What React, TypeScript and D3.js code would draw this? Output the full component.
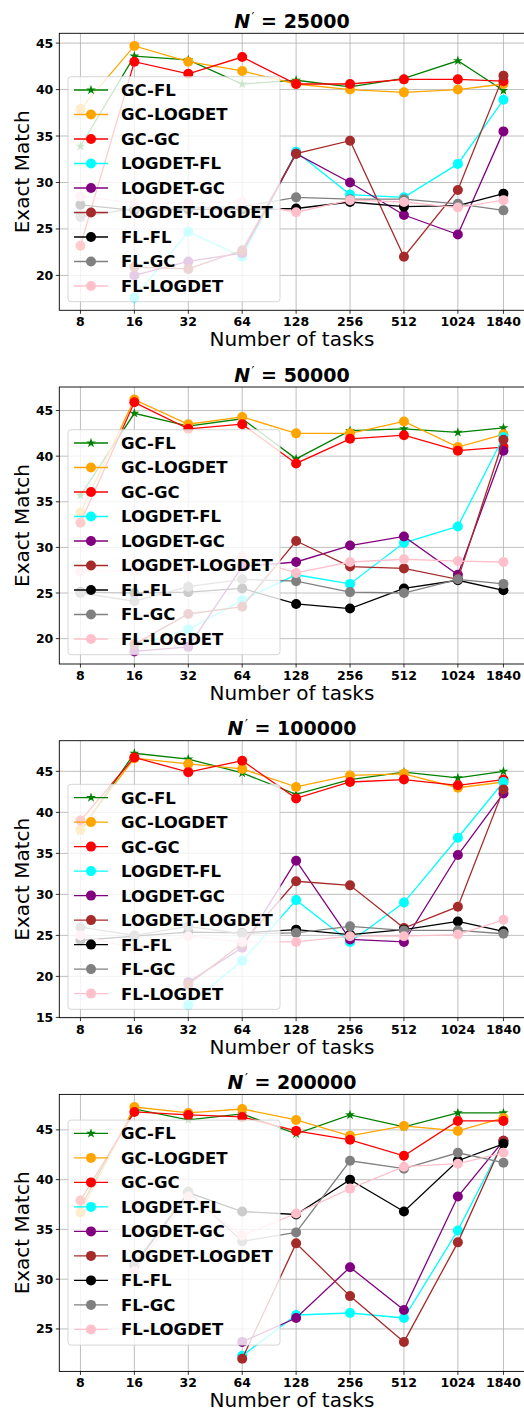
import React from 'react';
import * as d3 from 'd3';

// x categories (number of tasks) and series
const tasks = [8, 16, 32, 64, 128, 256, 512, 1024, 1840];
const seriesNames = ['GC-FL', 'GC-LOGDET', 'GC-GC', 'LOGDET-FL', 'LOGDET-GC', 'LOGDET-LOGDET', 'FL-FL', 'FL-GC', 'FL-LOGDET'];
const seriesColors = ['green', 'orange', 'red', 'cyan', 'purple', 'brown', 'black', 'gray', 'pink'];
const panelSizes = ['25000', '50000', '100000', '200000'];

// Exact Match, one row per series (same order as seriesNames), null = not run
const em25000 = [
  [33.9, 43.6, 43.2, 40.6, 41.0, 40.3, 41.2, 43.1, 39.9],
  [37.9, 44.7, 43.0, 42.0, 40.6, 40.0, 39.7, 40.0, 40.6],
  [23.2, 43.0, 41.7, 43.5, 40.6, 40.6, 41.1, 41.1, 40.9],
  [null, 17.6, 24.7, 22.0, 33.3, 28.7, 28.4, 32.0, 38.9],
  [null, 20.0, 21.5, 22.4, 33.1, 30.0, 26.5, 24.4, 35.5],
  [null, 20.9, 20.7, 22.7, 33.1, 34.5, 22.0, 29.2, 41.5],
  [27.6, 27.0, 27.1, 27.1, 27.2, 27.9, 27.4, 27.5, 28.8],
  [26.3, 27.2, 27.3, 27.4, 28.4, 28.2, 28.2, 27.7, 27.0],
  [28.5, 27.8, 27.8, 27.9, 26.8, 28.1, 27.9, 27.3, 28.1],
];
const em50000 = [
  [35.7, 44.7, 43.3, 44.1, 39.7, 42.8, 43.0, 42.6, 43.1],
  [33.8, 46.2, 43.5, 44.3, 42.5, 42.5, 43.8, 41.0, 42.4],
  [32.7, 45.9, 43.0, 43.5, 39.2, 41.9, 42.3, 40.6, 41.0],
  [null, 19.2, 21.0, 24.2, 27.0, 26.0, 30.5, 32.3, 42.1],
  [null, 18.6, 19.1, 27.9, 28.4, 30.2, 31.2, 27.0, 40.6],
  [null, 19.4, 22.7, 23.5, 30.7, 27.9, 27.7, 26.5, 41.8],
  [25.1, 25.0, 25.1, 25.5, 23.8, 23.3, 25.5, 26.4, 25.3],
  [25.0, 24.1, 25.7, 26.5, 26.3, 25.1, 25.0, 26.5, 26.0],
  [27.4, 27.4, 27.6, 29.0, 27.2, 28.4, 28.7, 28.5, 28.4],
];
const em100000 = [
  [37.7, 47.2, 46.5, 44.8, 42.2, 44.0, 44.9, 44.2, 45.0],
  [37.9, 46.6, 45.9, 45.3, 43.1, 44.5, 44.7, 43.0, 43.7],
  [39.0, 46.7, 44.9, 46.3, 41.7, 43.7, 44.0, 43.3, 44.0],
  [null, null, 16.5, 21.9, 29.3, 24.2, 29.0, 36.9, 43.7],
  [null, null, 19.3, 23.5, 34.1, 24.5, 24.2, 34.8, 42.3],
  [null, null, 19.0, 24.0, 31.6, 31.1, 25.9, 28.5, 42.8],
  [24.4, 24.9, 25.4, 25.3, 25.7, 25.1, 25.7, 26.7, 25.5],
  [26.0, 25.0, 26.1, 25.2, 25.3, 26.1, 25.6, 25.6, 25.2],
  [25.0, 23.4, 24.9, 24.2, 24.2, 24.9, 24.9, 25.1, 26.9],
];
const em200000 = [
  [37.2, 47.1, 46.0, 46.6, 44.6, 46.5, 45.3, 46.7, 46.7],
  [36.7, 47.3, 46.7, 47.1, 46.0, 44.4, 45.4, 44.9, 46.2],
  [37.9, 46.8, 46.5, 46.3, 44.9, 44.0, 42.4, 45.9, 45.9],
  [null, null, null, 22.3, 26.4, 26.6, 26.1, 34.9, 43.8],
  [null, null, null, 23.7, 26.1, 31.2, 26.9, 38.3, 43.9],
  [null, null, null, 22.0, 33.6, 28.3, 23.7, 33.7, 43.9],
  [null, 31.4, 38.7, 36.8, 36.5, 40.0, 36.8, 41.9, 43.6],
  [null, 31.5, 38.8, 33.8, 34.7, 41.9, 41.1, 42.7, 41.7],
  [null, 30.8, 38.3, 34.4, 36.6, 39.1, 41.3, 41.6, 42.7],
];
const panelValues = [em25000, em50000, em100000, em200000];

// layout
const W = 524;
const H = 1411;
const axLeft = 59.3;
const axRight = 524.6;
const axTop0 = 33.3;
const axH = 277;
const panelStep = 353.7;
const legendOffsets = [43.4, 42.7, 43.6, 25.7];
const font = 'DejaVu Sans';

const Panel = ({ idx }: { idx: number }) => {
  const values = panelValues[idx];
  const top = axTop0 + idx * panelStep;
  const bottom = top + axH;
  const cx = (axLeft + axRight) / 2;

  const lo = Math.log2(d3.min(tasks) as number);
  const hi = Math.log2(d3.max(tasks) as number);
  const padX = (hi - lo) * 0.05;
  const x = d3.scaleLog().base(2).domain([2 ** (lo - padX), 2 ** (hi + padX)]).range([axLeft, axRight]);

  const all = values.flat().filter((v) => v != null) as number[];
  const [ymin, ymax] = d3.extent(all) as [number, number];
  const padY = (ymax - ymin) * 0.05;
  const y = d3.scaleLinear().domain([ymin - padY, ymax + padY]).range([bottom, top]);
  const yTicks = y.ticks(6);

  const line = d3.line<number | null>()
    .defined((v) => v != null)
    .x((_, i) => x(tasks[i]))
    .y((v) => y(v as number));

  const star = d3.symbol(d3.symbolStar, 30)();

  const lgX = axLeft + 8.7;
  const lgY = top + legendOffsets[idx];

  const marker = (i: number, px: number, py: number, key: any) =>
    i === 0 ? (
      <path key={key} d={star as string} transform={`translate(${px},${py})`} fill={seriesColors[i]} />
    ) : (
      <circle key={key} cx={px} cy={py} r={5} fill={seriesColors[i]} />
    );

  return (
    <g>
      {/* grid */}
      {tasks.map((t) => (
        <line key={'gx' + t} x1={x(t)} x2={x(t)} y1={top} y2={bottom} stroke="#b0b0b0" strokeWidth={0.8} />
      ))}
      {yTicks.map((t) => (
        <line key={'gy' + t} x1={axLeft} x2={axRight} y1={y(t)} y2={y(t)} stroke="#b0b0b0" strokeWidth={0.8} />
      ))}

      {/* series */}
      {values.map((row, i) => (
        <g key={seriesNames[i]}>
          <path d={line(row) as string} fill="none" stroke={seriesColors[i]} strokeWidth={1.3} />
          {row.map((v, j) => (v == null ? null : marker(i, x(tasks[j]), y(v), j)))}
        </g>
      ))}

      {/* spines */}
      <rect x={axLeft} y={top} width={axRight - axLeft} height={axH} fill="none" stroke="black" strokeWidth={0.9} />

      {/* x ticks */}
      {tasks.map((t) => (
        <g key={'tx' + t}>
          <line x1={x(t)} x2={x(t)} y1={bottom} y2={bottom + 3.5} stroke="black" strokeWidth={0.8} />
          <text x={x(t)} y={bottom + 16} textAnchor="middle" fontFamily={font} fontWeight="bold" fontSize={12.5}>
            {t}
          </text>
        </g>
      ))}
      {/* y ticks */}
      {yTicks.map((t) => (
        <g key={'ty' + t}>
          <line x1={axLeft - 3.5} x2={axLeft} y1={y(t)} y2={y(t)} stroke="black" strokeWidth={0.8} />
          <text x={axLeft - 6} y={y(t)} dy="0.36em" textAnchor="end" fontFamily={font} fontWeight="bold" fontSize={12.5}>
            {t}
          </text>
        </g>
      ))}

      {/* labels */}
      <text x={cx} y={bottom + 36} textAnchor="middle" fontFamily={font} fontSize={20}>
        Number of tasks
      </text>
      <text
        transform={`translate(29,${(top + bottom) / 2}) rotate(-90)`}
        textAnchor="middle"
        fontFamily={font}
        fontSize={20}
      >
        Exact Match
      </text>
      <text x={cx} y={top - 5.5} textAnchor="middle" fontFamily={font} fontWeight="bold" fontSize={19}>
        <tspan fontStyle="italic">N</tspan>
        <tspan dx={1.5} dy={-7} fontSize={13} fontWeight="normal">′</tspan>
        <tspan dy={7}>{' = ' + panelSizes[idx]}</tspan>
      </text>

      {/* legend */}
      <rect x={lgX} y={lgY} width={212} height={225} rx={3} fill="white" fillOpacity={0.8} stroke="#cccccc" strokeOpacity={0.8} />
      {seriesNames.map((name, i) => {
        const ry = lgY + 13.3 + i * 24.5;
        return (
          <g key={'lg' + name}>
            <line x1={lgX + 6} x2={lgX + 40} y1={ry} y2={ry} stroke={seriesColors[i]} strokeWidth={1.3} />
            {marker(i, lgX + 23, ry, 'm')}
            <text x={lgX + 53} y={ry} dy="0.36em" fontFamily={font} fontWeight="bold" fontSize={16.5}>
              {name}
            </text>
          </g>
        );
      })}
    </g>
  );
};

const App = () => (
  <svg
    width={W}
    height={H}
    viewBox={`0 0 ${W} ${H}`}
    style={{ position: 'absolute', left: 0, top: 0, background: 'white' }}
  >
    {panelSizes.map((_, i) => (
      <Panel key={i} idx={i} />
    ))}
  </svg>
);

export default App;
